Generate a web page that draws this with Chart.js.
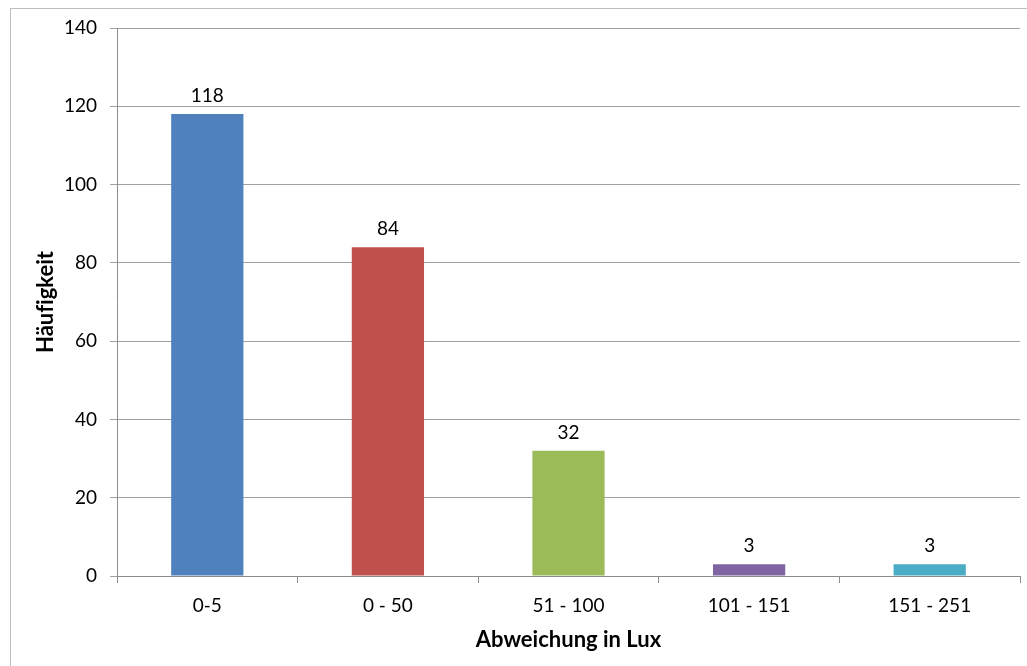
<!DOCTYPE html>
<html>
<head>
<meta charset="utf-8">
<script src="https://cdn.jsdelivr.net/npm/chart.js@4/dist/chart.umd.min.js"></script>
<style>
  html, body { margin: 0; padding: 0; background: #fff; overflow: hidden; }
  #wrap { position: relative; width: 1027px; height: 666px; }
</style>
</head>
<body>
<div id="wrap"><canvas id="c" width="1027" height="666"></canvas></div>
<script>
// Häufigkeit der Abweichungen je Lux-Bereich
const categories = ['0-5', '0 - 50', '51 - 100', '101 - 151', '151 - 251'];
const counts = [118, 84, 32, 3, 3];
const barColors = ['#4F81BD', '#C0504D', '#9BBB59', '#8064A2', '#4BACC6'];
const yTicks = [0, 20, 40, 60, 80, 100, 120, 140];

const FONT = 'Lato, "Open Sans", sans-serif';

// Frame around the whole chart object
const framePlugin = {
  id: 'frame',
  beforeDraw(chart) {
    const ctx = chart.ctx;
    ctx.save();
    ctx.fillStyle = '#fff';
    ctx.fillRect(0, 0, chart.width, chart.height);
    ctx.strokeStyle = '#bdbdbd';
    ctx.lineWidth = 1;
    ctx.strokeRect(10.5, 8.5, chart.width + 20, chart.height + 20);
    ctx.restore();
  }
};

// Value labels above each bar
const valueLabels = {
  id: 'valueLabels',
  afterDatasetsDraw(chart) {
    const ctx = chart.ctx;
    const meta = chart.getDatasetMeta(0);
    ctx.save();
    ctx.font = '19px ' + FONT;
    ctx.fillStyle = '#000';
    ctx.textAlign = 'center';
    ctx.textBaseline = 'alphabetic';
    meta.data.forEach((bar, i) => {
      ctx.fillText(String(counts[i]), bar.x, bar.y - 12);
    });
    ctx.restore();
  }
};

new Chart(document.getElementById('c'), {
  type: 'bar',
  data: {
    labels: categories,
    datasets: [{
      data: counts,
      backgroundColor: barColors,
      borderWidth: 0,
      barPercentage: 0.4,
      categoryPercentage: 1.0
    }]
  },
  options: {
    responsive: false,
    animation: false,
    devicePixelRatio: 1,
    layout: { padding: { left: 0, right: 7, top: 28, bottom: 0 } },
    plugins: {
      legend: { display: false },
      tooltip: { enabled: false }
    },
    scales: {
      x: {
        grid: {
          offset: true,
          drawOnChartArea: false,
          drawTicks: true,
          tickLength: 7,
          color: '#8c8c8c'
        },
        border: { display: true, color: '#8c8c8c' },
        ticks: {
          color: '#000',
          font: { family: FONT, size: 19 },
          padding: 11
        },
        title: {
          display: true,
          text: 'Abweichung in Lux',
          color: '#000',
          font: { family: FONT, size: 22, weight: 'bold' },
          padding: { top: 0, bottom: 13 }
        },
        afterFit(scale) { scale.height = 90; }
      },
      y: {
        min: 0,
        max: 140,
        afterBuildTicks(scale) {
          scale.ticks = yTicks.map(v => ({ value: v }));
        },
        grid: {
          color: '#a0a0a0',
          drawTicks: true,
          tickLength: 7
        },
        border: { display: true, color: '#8c8c8c' },
        ticks: {
          color: '#000',
          font: { family: FONT, size: 19 },
          padding: 13
        },
        title: {
          display: true,
          text: 'Häuf\u200Cigkeit',
          color: '#000',
          font: { family: FONT, size: 22, weight: 'bold' },
          padding: { top: 33, bottom: 0 }
        },
        afterFit(scale) { scale.width = 117; }
      }
    }
  },
  plugins: [framePlugin, valueLabels]
});
</script>
</body>
</html>
